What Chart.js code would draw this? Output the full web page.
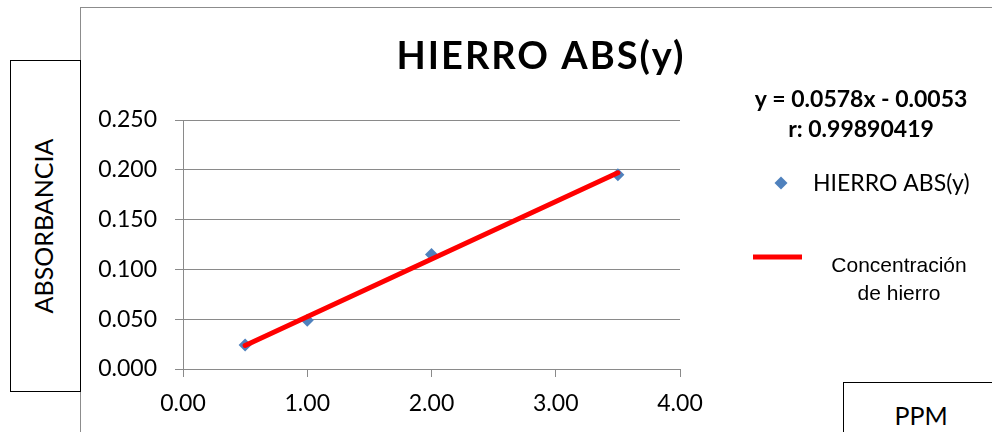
<!DOCTYPE html>
<html>
<head>
<meta charset="utf-8">
<script src="https://cdn.jsdelivr.net/npm/chart.js@4.4.1/dist/chart.umd.min.js"></script>
<style>
  html, body { margin: 0; padding: 0; background: #fff; }
  #wrap { position: relative; width: 992px; height: 432px; overflow: hidden; background: #fff; }
  #frame { position: absolute; left: 80px; top: 7px; width: 940px; height: 460px;
           border-left: 1px solid #8c8c8c; border-top: 1px solid #8c8c8c; }
  canvas { position: absolute; left: 0; top: 0; }
  .box { position: absolute; background: #fff; border: 1px solid #000; box-sizing: border-box; }
  #yTitle { left: 10px; top: 60px; width: 71px; height: 332px; }
  #yTitle span { position: absolute; left: 47%; top: 50%; transform: translate(-50%, -50%) rotate(-90deg);
                 font: 25px Lato, sans-serif; color: #000; white-space: nowrap; }
  #xTitle { left: 843px; top: 382px; width: 200px; height: 100px; }
  #xTitle span { position: absolute; left: 77px; top: 17px; transform: translateX(-50%);
                 font: 25px Lato, sans-serif; color: #000; white-space: nowrap; line-height: 30px; }
</style>
</head>
<body>
<div id="wrap">
  <div id="frame"></div>
  <canvas id="c" width="992" height="432"></canvas>
  <div class="box" id="yTitle"><span>ABSORBANCIA</span></div>
  <div class="box" id="xTitle"><span>PPM</span></div>
</div>
<script>
// Iron calibration: concentration (ppm) against absorbance
const ppm = [0.5, 1.0, 2.0, 3.5];
const absorbance = [0.024, 0.049, 0.115, 0.195];

// Least-squares fit as reported on the chart
const fitSlope = 0.0578;
const fitIntercept = -0.0053;
const fitR = '0.99890419';
const fitRange = [0.5, 3.5];

const yTicks = [0, 0.05, 0.10, 0.15, 0.20, 0.25];
const xTicks = [0, 1, 2, 3, 4];

const chartTitle = 'HIERRO ABS(y)';
const seriesName = 'HIERRO ABS(y)';
const fitName = ['Concentración', 'de hierro'];

const GRAY = '#8a8a8a';
const BLUE = '#4f81bd';
const RED = '#ff0000';

const fitPoints = fitRange.map(x => ({ x: x, y: fitSlope * x + fitIntercept }));
const samplePoints = ppm.map((x, i) => ({ x: x, y: absorbance[i] }));

function fmtSigned(v) {
  return (v < 0 ? '- ' : '+ ') + Math.abs(v).toFixed(4);
}

// Title, fit equation and the legend on the right
const annotations = {
  id: 'annotations',
  afterDraw(chart) {
    const ctx = chart.ctx;
    ctx.save();
    ctx.fillStyle = '#000';
    ctx.textBaseline = 'alphabetic';

    ctx.font = 'bold 38px Lato, sans-serif';
    ctx.letterSpacing = '2px';
    ctx.textAlign = 'center';
    ctx.fillText(chartTitle, 541, 69);
    ctx.letterSpacing = '0px';

    ctx.font = 'bold 23px Lato, sans-serif';
    ctx.fillText('y = ' + fitSlope.toFixed(4) + 'x ' + fmtSigned(fitIntercept), 861, 107);
    ctx.fillText('r: ' + fitR, 861, 137);

    // scatter series entry
    const ds0 = chart.data.datasets[0];
    const s = 6.5;
    ctx.fillStyle = ds0.backgroundColor;
    ctx.beginPath();
    ctx.moveTo(781, 183 - s);
    ctx.lineTo(781 + s, 183);
    ctx.lineTo(781, 183 + s);
    ctx.lineTo(781 - s, 183);
    ctx.closePath();
    ctx.fill();
    ctx.fillStyle = '#000';
    ctx.font = '23px Lato, sans-serif';
    ctx.textAlign = 'left';
    ctx.textBaseline = 'middle';
    ctx.fillText(seriesName, 813, 184);

    // fit line entry
    const ds1 = chart.data.datasets[1];
    ctx.strokeStyle = ds1.borderColor;
    ctx.lineWidth = ds1.borderWidth;
    ctx.lineCap = 'butt';
    ctx.beginPath();
    ctx.moveTo(753, 257);
    ctx.lineTo(802, 257);
    ctx.stroke();
    ctx.font = '21px "Liberation Sans", Arial, sans-serif';
    ctx.textAlign = 'center';
    ctx.textBaseline = 'alphabetic';
    ctx.fillText(fitName[0], 899, 272);
    ctx.fillText(fitName[1], 899, 300);
    ctx.restore();
  }
};

const tickFont = { family: 'Lato, sans-serif', size: 23 };

new Chart(document.getElementById('c'), {
  type: 'scatter',
  data: {
    datasets: [
      {
        label: seriesName,
        data: samplePoints,
        pointStyle: 'rectRot',
        pointRadius: 6.5,
        backgroundColor: BLUE,
        borderColor: BLUE,
        borderWidth: 0,
        showLine: false,
        order: 1
      },
      {
        label: fitName.join(' '),
        data: fitPoints,
        showLine: true,
        borderColor: RED,
        borderWidth: 5,
        borderCapStyle: 'round',
        pointRadius: 0,
        order: 0
      }
    ]
  },
  options: {
    responsive: false,
    animation: false,
    layout: { padding: { left: 90, right: 312, top: 120, bottom: 0 } },
    plugins: {
      legend: { display: false },
      title: { display: false },
      tooltip: { enabled: false }
    },
    scales: {
      x: {
        type: 'linear',
        min: xTicks[0],
        max: xTicks[xTicks.length - 1],
        afterBuildTicks: s => { s.ticks = xTicks.map(v => ({ value: v })); },
        afterFit: s => { s.height = 63; },
        ticks: { callback: v => Number(v).toFixed(2), font: tickFont, color: '#000', padding: 13, maxRotation: 0 },
        grid: { drawOnChartArea: false, drawTicks: true, tickLength: 8, color: GRAY },
        border: { color: GRAY, width: 1 }
      },
      y: {
        type: 'linear',
        min: yTicks[0],
        max: yTicks[yTicks.length - 1],
        afterBuildTicks: s => { s.ticks = yTicks.map(v => ({ value: v })); },
        afterFit: s => { s.width = 93; },
        ticks: { callback: v => Number(v).toFixed(3), font: tickFont, color: '#000', padding: 18 },
        grid: { color: GRAY, tickLength: 8, lineWidth: 1 },
        border: { color: GRAY, width: 1 }
      }
    }
  },
  plugins: [annotations]
});
</script>
</body>
</html>
